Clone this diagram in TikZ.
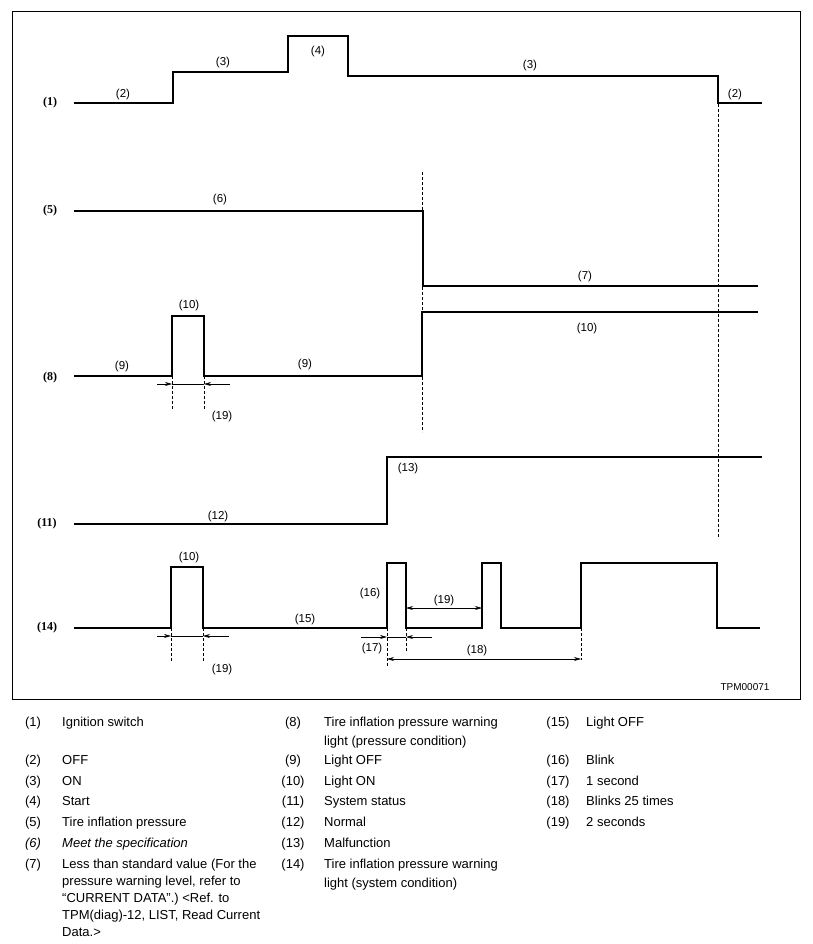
\documentclass[tikz,border=0pt]{standalone}
\usepackage{fontspec}
\setmainfont{Liberation Sans}
\newfontfamily\rowfont{Liberation Serif}
\usetikzlibrary{arrows.meta}

\begin{document}
\begin{tikzpicture}[x=1pt,y=-1pt,
	signal/.style={line width=1.1pt,line join=miter},
	guide/.style={dash pattern=on 3pt off 2pt,line width=0.6pt},
	dimline/.style={line width=0.6pt},
	dimtip/.style={dimline,-{Stealth[length=7pt,width=4pt]}},
	dimboth/.style={dimline,{Stealth[length=7pt,width=4pt]}-{Stealth[length=7pt,width=4pt]}},
	tag/.style={font=\fontsize{11.5}{13}\selectfont,inner sep=0pt},
	rowtag/.style={font=\rowfont\bfseries\fontsize{12}{14}\selectfont,inner sep=0pt},
	legnum/.style={font=\fontsize{13}{19}\selectfont,inner sep=0pt,anchor=north},
	legtext/.style={font=\fontsize{13}{19}\selectfont,inner sep=0pt,anchor=north west,align=left}]

  \useasboundingbox (0,0) rectangle (812,944);
  \draw[line width=0.8pt] (12,11) rectangle (800,699);

  % ignition switch
  \node[rowtag] (ign) at (50,103) {(1)};
  \draw[signal] (74,103) -- (173,103) -- (173,72) -- (288,72) -- (288,36) -- (348,36)
    -- (348,76) -- (718,76) -- (718,103) -- (762,103);
  \node[tag] (ignoff) at (123,95) {(2)};
  \node[tag] (ignon) at (223,63) {(3)};
  \node[tag] (ignstart) at (318,52) {(4)};
  \node[tag] (ignonb) at (530,66) {(3)};
  \node[tag] (ignoffb) at (735,95) {(2)};

  % tire inflation pressure
  \node[rowtag] (pres) at (50,211) {(5)};
  \draw[signal] (74,211) -- (423,211) -- (423,286) -- (758,286);
  \node[tag] (presok) at (220,200) {(6)};
  \node[tag] (preslow) at (585,277) {(7)};

  % warning light, pressure condition
  \node[rowtag] (lamp) at (50,378) {(8)};
  \draw[signal] (74,376) -- (172,376) -- (172,316) -- (204,316) -- (204,376) -- (422,376)
    -- (422,312) -- (758,312);
  \node[tag] (lampoff) at (122,367) {(9)};
  \node[tag] (lampon) at (189,306) {(10)};
  \node[tag] (lampoffb) at (305,365) {(9)};
  \node[tag] (lamponb) at (587,329) {(10)};
  \draw[guide] (172,376) -- (172,410);
  \draw[guide] (204,376) -- (204,410);
  \draw[dimtip] (157,384) -- (172,384);
  \draw[dimline] (172,384) -- (204,384);
  \draw[dimtip] (230,384) -- (204,384);
  \node[tag] (lamptwo) at (222,417) {(19)};

  % system status
  \node[rowtag] (sys) at (47,524) {(11)};
  \draw[signal] (74,524) -- (387,524) -- (387,457) -- (762,457);
  \node[tag] (sysok) at (218,517) {(12)};
  \node[tag] (sysbad) at (408,469) {(13)};

  % warning light, system condition
  \node[rowtag] (blink) at (47,628) {(14)};
  \draw[signal] (74,628) -- (171,628) -- (171,567) -- (203,567) -- (203,628) -- (387,628)
    -- (387,563) -- (406,563) -- (406,628) -- (482,628) -- (482,563) -- (501,563) -- (501,628)
    -- (581,628) -- (581,563) -- (717,563) -- (717,628) -- (760,628);
  \node[tag] (blinkon) at (189,558) {(10)};
  \node[tag] (blinkoff) at (305,620) {(15)};
  \node[tag] (blinkone) at (370,594) {(16)};
  \draw[guide] (171,628) -- (171,661);
  \draw[guide] (203,628) -- (203,661);
  \draw[dimtip] (157,636) -- (171,636);
  \draw[dimline] (171,636) -- (203,636);
  \draw[dimtip] (229,636) -- (203,636);
  \node[tag] (blinktwo) at (222,670) {(19)};
  \draw[dimboth] (406,608) -- (482,608);
  \node[tag] (blinkgap) at (444,601) {(19)};
  \draw[guide] (387,628) -- (387,667);
  \draw[guide] (406,628) -- (406,651);
  \draw[guide] (581,628) -- (581,660);
  \draw[dimtip] (361,637) -- (387,637);
  \draw[dimline] (387,637) -- (406,637);
  \draw[dimtip] (432,637) -- (406,637);
  \node[tag] (blinksec) at (372,649) {(17)};
  \draw[dimboth] (387,659) -- (581,659);
  \node[tag] (blinkrun) at (477,651) {(18)};

  % time marks
  \draw[guide] (422,172) -- (422,432);
  \draw[guide] (718,104) -- (718,537);
  \node[font=\fontsize{10}{12}\selectfont,inner sep=0pt] (code) at (745,687) {TPM00071};

  % legend
  \node[legnum] (n1) at (33,717) {(1)};   \node[legtext] (t1) at (62,717) {Ignition switch};
  \node[legnum] (n2) at (33,755) {(2)};   \node[legtext] (t2) at (62,755) {OFF};
  \node[legnum] (n3) at (33,776) {(3)};   \node[legtext] (t3) at (62,776) {ON};
  \node[legnum] (n4) at (33,796) {(4)};   \node[legtext] (t4) at (62,796) {Start};
  \node[legnum] (n5) at (33,817) {(5)};   \node[legtext] (t5) at (62,817) {Tire inflation pressure};
  \node[legnum] (n6) at (33,838) {\itshape(6)}; \node[legtext] (t6) at (62,838) {\itshape Meet the specification};
  \node[legnum] (n7) at (33,859) {(7)};
  \node[legtext,font=\fontsize{13}{17}\selectfont] (t7) at (62,859) {Less than standard value (For the\\pressure warning level, refer to\\“CURRENT DATA”.) <Ref. to\\TPM(diag)-12, LIST, Read Current\\Data.>};
  \node[legnum] (n8) at (293,717) {(8)};  \node[legtext] (t8) at (324,717) {Tire inflation pressure warning\\light (pressure condition)};
  \node[legnum] (n9) at (293,755) {(9)};  \node[legtext] (t9) at (324,755) {Light OFF};
  \node[legnum] (n10) at (293,776) {(10)}; \node[legtext] (t10) at (324,776) {Light ON};
  \node[legnum] (n11) at (293,796) {(11)}; \node[legtext] (t11) at (324,796) {System status};
  \node[legnum] (n12) at (293,817) {(12)}; \node[legtext] (t12) at (324,817) {Normal};
  \node[legnum] (n13) at (293,838) {(13)}; \node[legtext] (t13) at (324,838) {Malfunction};
  \node[legnum] (n14) at (293,859) {(14)}; \node[legtext] (t14) at (324,859) {Tire inflation pressure warning\\light (system condition)};
  \node[legnum] (n15) at (558,717) {(15)}; \node[legtext] (t15) at (586,717) {Light OFF};
  \node[legnum] (n16) at (558,755) {(16)}; \node[legtext] (t16) at (586,755) {Blink};
  \node[legnum] (n17) at (558,776) {(17)}; \node[legtext] (t17) at (586,776) {1 second};
  \node[legnum] (n18) at (558,796) {(18)}; \node[legtext] (t18) at (586,796) {Blinks 25 times};
  \node[legnum] (n19) at (558,817) {(19)}; \node[legtext] (t19) at (586,817) {2 seconds};
\end{tikzpicture}
\end{document}
